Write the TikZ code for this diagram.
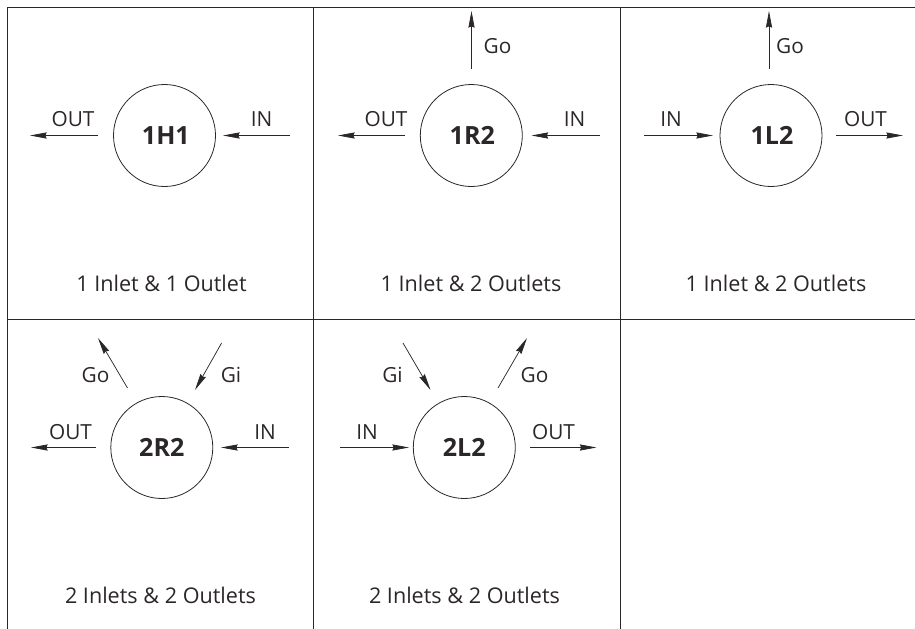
\documentclass[tikz,border=0pt]{standalone}
\usepackage{fontspec}
\setmainfont{Open Sans}
\usetikzlibrary{arrows.meta}
\definecolor{ink}{HTML}{2B2728}
\tikzset{
  x=0.75pt,y=-0.75pt,
  every node/.style={text=ink,inner sep=0pt,font=\fontsize{15.6pt}{19pt}\selectfont},
  frame/.style={draw=ink,line width=0.75pt},
  unit/.style={circle,draw=ink,line width=0.6pt,minimum size=76.5pt,font=\fontsize{18.8pt}{23pt}\selectfont\bfseries},
  flow/.style={draw=ink,line width=0.55pt,-{Stealth[length=12.5pt,width=4.6pt,inset=1pt]}},
  lab/.style={anchor=base},
  caption/.style={anchor=base,font=\fontsize{16.2pt}{19pt}\selectfont}
}
\begin{document}
\begin{tikzpicture}
\useasboundingbox (0,0) rectangle (915,629);
\coordinate (fTL) at (7,7); \coordinate (fTR) at (915,7);
\coordinate (fML) at (7,319.5); \coordinate (fMR) at (915,319.5);
\coordinate (fBL) at (7,629); \coordinate (fA) at (313.5,7); \coordinate (fAb) at (313.5,629);
\coordinate (fB) at (620.5,7); \coordinate (fBb) at (620.5,629);
\draw[frame] (fBL) -- (fTL) -- (fTR);
\draw[frame] (fML) -- (fMR);
\draw[frame] (fA) -- (fAb);
\draw[frame] (fB) -- (fBb);

% 1H1
\node[unit] (h) at (164.5,135.5) {\kern2pt 1H1};
\coordinate (hOs) at (98,135.5); \coordinate (hOe) at (30,135.5);
\coordinate (hIs) at (290,135.5); \coordinate (hIe) at (223,135.5);
\draw[flow] (hOs) -- (hOe); \draw[flow] (hIs) -- (hIe);
\node[lab] (hO) at (73,126.5) {OUT};
\node[lab] (hI) at (261.5,126.5) {IN};
\node[caption] (hC) at (161.5,291.8) {1 Inlet \& 1 Outlet};

% 1R2
\node[unit] (r) at (471.3,135.5) {\kern1.5pt 1R2};
\coordinate (rOs) at (405,135.5); \coordinate (rOe) at (338,135.5);
\coordinate (rIs) at (600,135.5); \coordinate (rIe) at (531.5,135.5);
\coordinate (rGs) at (471.5,69); \coordinate (rGe) at (471.5,11);
\draw[flow] (rOs) -- (rOe); \draw[flow] (rIs) -- (rIe); \draw[flow] (rGs) -- (rGe);
\node[lab] (rO) at (386,126.5) {OUT};
\node[lab] (rI) at (574.5,126.5) {IN};
\node[lab] (rG) at (497.5,53) {Go};
\node[caption] (rC) at (471,291.8) {1 Inlet \& 2 Outlets};

% 1L2
\node[unit] (l) at (771,135.5) {\kern1.5pt 1L2};
\coordinate (lIs) at (644,135.5); \coordinate (lIe) at (713,135.5);
\coordinate (lOs) at (836,135.5); \coordinate (lOe) at (903,135.5);
\coordinate (lGs) at (769,69); \coordinate (lGe) at (769,11);
\draw[flow] (lIs) -- (lIe); \draw[flow] (lOs) -- (lOe); \draw[flow] (lGs) -- (lGe);
\node[lab] (lI) at (671,126.5) {IN};
\node[lab] (lO) at (865.5,126.5) {OUT};
\node[lab] (lG) at (790,53) {Go};
\node[caption] (lC) at (776,291.8) {1 Inlet \& 2 Outlets};

% 2R2
\node[unit] (a) at (161.8,447.5) {2R2};
\coordinate (aOs) at (95.5,447.5); \coordinate (aOe) at (31,447.5);
\coordinate (aIs) at (289,447.5); \coordinate (aIe) at (221,447.5);
\coordinate (aGos) at (127.5,388); \coordinate (aGoe) at (98,338);
\coordinate (aGis) at (221.6,343); \coordinate (aGie) at (195,390);
\draw[flow] (aOs) -- (aOe); \draw[flow] (aIs) -- (aIe);
\draw[flow] (aGos) -- (aGoe); \draw[flow] (aGis) -- (aGie);
\node[lab] (aO) at (70.5,439) {OUT};
\node[lab] (aI) at (265,439) {IN};
\node[lab] (aGo) at (95.5,382) {Go};
\node[lab] (aGi) at (231,382) {Gi};
\node[caption] (aC) at (160.5,603.8) {2 Inlets \& 2 Outlets};

% 2L2
\node[unit] (b) at (464.3,447.5) {2L2};
\coordinate (bIs) at (340,447.5); \coordinate (bIe) at (409,447.5);
\coordinate (bOs) at (530,447.5); \coordinate (bOe) at (596.5,447.5);
\coordinate (bGis) at (403,343); \coordinate (bGie) at (430.5,390);
\coordinate (bGos) at (498,388); \coordinate (bGoe) at (527,338);
\draw[flow] (bIs) -- (bIe); \draw[flow] (bOs) -- (bOe);
\draw[flow] (bGis) -- (bGie); \draw[flow] (bGos) -- (bGoe);
\node[lab] (bI) at (367,439) {IN};
\node[lab] (bO) at (553.5,439) {OUT};
\node[lab] (bGi) at (392.5,382) {Gi};
\node[lab] (bGo) at (534.5,382) {Go};
\node[caption] (bC) at (464.5,603.8) {2 Inlets \& 2 Outlets};
\end{tikzpicture}
\end{document}
